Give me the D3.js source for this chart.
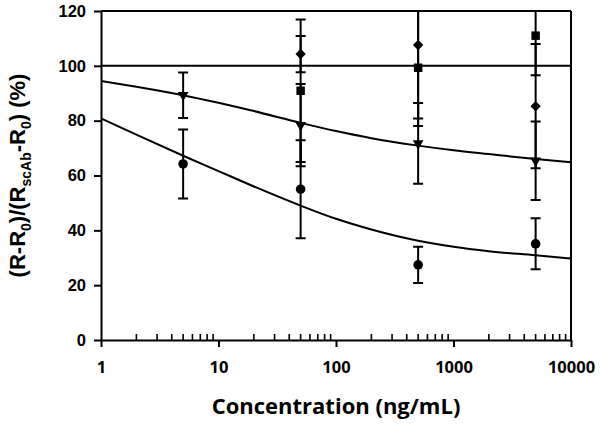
<!DOCTYPE html>
<html>
<head>
<meta charset="utf-8">
<script src="https://cdn.jsdelivr.net/npm/d3@7"></script>
<style>
  body { margin: 0; background: #fff; }
  svg { display: block; }
</style>
</head>
<body>
<svg id="chart"></svg>
<script>
// Data
var conc = [5, 50, 500, 5000];
var circleMean = [64.2, 55.0, 27.4, 35.1];
var circleErr = [12.6, 17.9, 6.6, 9.3];
var triMean = [89.3, 78.4, 71.7, 65.4];
var triErr = [8.3, 15.0, 14.7, 14.3];
var squareConc = [50, 500, 5000];
var squareMean = [90.9, 99.3, 111.0];
var squareErr = [26.0, 21.2, 14.4];
var diamondConc = [50, 500, 5000];
var diamondMean = [104.3, 107.6, 85.3];
var diamondErr = [6.6, 26.8, 22.7];

// fitted curves
var fitConc = [1, 2, 5, 10, 20, 50, 100, 200, 500, 1000, 2000, 5000, 10000];
var fitTri = [94.5, 92.4, 89.3, 86.5, 83.5, 79.2, 76.2, 73.6, 70.9, 69.2, 67.8, 66.0, 64.8];
var fitCircle = [80.8, 74.9, 67.2, 61.6, 56.0, 49.0, 44.2, 40.3, 36.2, 34.0, 32.4, 30.9, 29.7];

var xTicks = [1, 10, 100, 1000, 10000];
var yTicks = [0, 20, 40, 60, 80, 100, 120];

var margin = { top: 11, right: 31, bottom: 87, left: 101 },
  width = 602 - margin.left - margin.right,
  height = 427 - margin.top - margin.bottom;

var xScale = d3.scaleLog().domain([1, 10000]).range([0, width]);
var yScale = d3.scaleLinear().domain([0, 120]).range([height, 0]);

var svg = d3.select("#chart").attr("width", 602).attr("height", 427);
var chart = svg.append("g")
  .attr("transform", `translate(${margin.left}, ${margin.top})`);

svg.append("defs").append("clipPath").attr("id", "clip")
  .append("rect").attr("width", width).attr("height", height);

// frame lines (top border, right border, 100% line)
chart.append("line").attr("x1", 0).attr("x2", width)
  .attr("y1", yScale(120)).attr("y2", yScale(120))
  .attr("stroke", "black").attr("stroke-width", 2);
chart.append("line").attr("x1", width).attr("x2", width)
  .attr("y1", 0).attr("y2", height)
  .attr("stroke", "black").attr("stroke-width", 2);
chart.append("line").attr("x1", 0).attr("x2", width)
  .attr("y1", yScale(100)).attr("y2", yScale(100))
  .attr("stroke", "black").attr("stroke-width", 2);

// Axes
var xAxis = chart.append("g")
  .attr("transform", "translate(0," + height + ")")
  .call(d3.axisBottom(xScale).tickValues(xTicks).tickFormat(d3.format("d"))
    .tickSizeInner(7).tickSizeOuter(0).tickPadding(14));
xAxis.selectAll("text")
  .style("font-family", "'Open Sans', sans-serif")
  .style("font-weight", "bold")
  .style("font-size", "16.5px");

// minor ticks pointing up
var minor = [];
for (var dec = 1; dec < 10000; dec *= 10) {
  for (var m = 2; m <= 9; m++) minor.push(dec * m);
}
chart.append("g").selectAll("line").data(minor).enter().append("line")
  .attr("x1", d => xScale(d)).attr("x2", d => xScale(d))
  .attr("y1", height).attr("y2", height - 6)
  .attr("stroke", "black").attr("stroke-width", 1.6);

var yAxis = chart.append("g")
  .call(d3.axisLeft(yScale).tickValues(yTicks).tickSizeInner(7).tickSizeOuter(0).tickPadding(8));
yAxis.selectAll("text")
  .style("font-family", "'Liberation Sans', Arial, sans-serif")
  .style("font-weight", "bold")
  .style("font-size", "16.5px");

chart.selectAll(".domain").attr("stroke-width", 2);
chart.selectAll(".tick line").attr("stroke-width", 2);

// Axis labels
chart.append("text")
  .attr("transform", "translate(" + (336 - margin.left) + "," + (414 - margin.top) + ")")
  .style("text-anchor", "middle")
  .style("font-family", "'Open Sans', sans-serif")
  .style("font-weight", "bold")
  .style("font-size", "22px")
  .text("Concentration (ng/mL)");

var yl = chart.append("text")
  .attr("transform", "translate(" + (-76) + "," + (height / 2) + ") rotate(-90)")
  .style("text-anchor", "middle")
  .style("font-family", "'Liberation Sans', Arial, sans-serif")
  .style("font-weight", "bold")
  .style("font-size", "22px");
yl.append("tspan").text("(R-R");
yl.append("tspan").attr("dy", 6).style("font-size", "14px").text("0");
yl.append("tspan").attr("dy", -6).text(")/(R");
yl.append("tspan").attr("dy", 6).style("font-size", "14px").text("scAb");
yl.append("tspan").attr("dy", -6).text("-R");
yl.append("tspan").attr("dy", 6).style("font-size", "14px").text("0");
yl.append("tspan").attr("dy", -6).text(") (%)");

var plot = chart.append("g").attr("clip-path", "url(#clip)");

// Fitted curves
var line = d3.line()
  .x(d => xScale(d[0]))
  .y(d => yScale(d[1]))
  .curve(d3.curveMonotoneX);
[fitTri, fitCircle].forEach(function(vals) {
  plot.append("path")
    .datum(fitConc.map((c, i) => [c, vals[i]]))
    .attr("d", line)
    .attr("fill", "none")
    .attr("stroke", "black")
    .attr("stroke-width", 2);
});

var series = [
  { x: conc, y: circleMean, e: circleErr, sym: d3.symbolCircle, size: 72, rot: 0 },
  { x: conc, y: triMean, e: triErr, sym: d3.symbolTriangle, size: 50, rot: 180 },
  { x: squareConc, y: squareMean, e: squareErr, sym: d3.symbolSquare, size: 72, rot: 0 },
  { x: diamondConc, y: diamondMean, e: diamondErr, sym: d3.symbolSquare, size: 54, rot: 45 }
];

series.forEach(function(s) {
  var pts = s.x.map((c, i) => ({ c: c, v: s.y[i], e: s.e[i] }));
  var g = plot.append("g");
  // Error bars
  g.selectAll(".eb").data(pts).enter().append("path")
    .attr("d", function(d) {
      var x = xScale(d.c), y1 = yScale(d.v + d.e), y0 = yScale(d.v - d.e);
      return "M" + x + "," + y1 + "V" + y0 +
        "M" + (x - 5) + "," + y1 + "H" + (x + 5) +
        "M" + (x - 5) + "," + y0 + "H" + (x + 5);
    })
    .attr("stroke", "black").attr("stroke-width", 2).attr("fill", "none");
  // Markers
  g.selectAll(".mk").data(pts).enter().append("path")
    .attr("d", d3.symbol().type(s.sym).size(s.size))
    .attr("transform", d => "translate(" + xScale(d.c) + "," + yScale(d.v) + ") rotate(" + s.rot + ")")
    .attr("fill", "black");
});
</script>
</body>
</html>
